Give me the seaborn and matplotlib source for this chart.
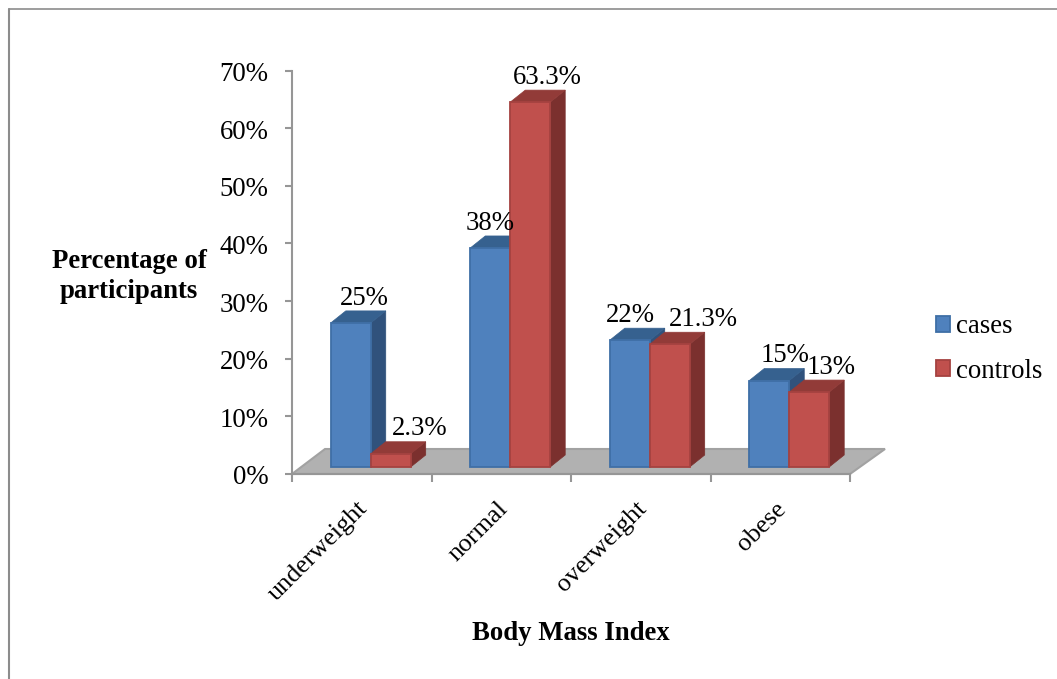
import pandas as pd
import seaborn as sns
from matplotlib import pyplot as plt
from matplotlib.lines import Line2D
from matplotlib.patches import Polygon
from matplotlib.transforms import ScaledTranslation

categories = ['underweight', 'normal', 'overweight', 'obese']
cases = [25, 38, 22, 15]
controls = [2.3, 63.3, 21.3, 13]
cases_labels = ['25%', '38%', '22%', '15%']
controls_labels = ['2.3%', '63.3%', '21.3%', '13%']
y_ticks = [0, 10, 20, 30, 40, 50, 60, 70]

W, H = 1057, 679
LEFT, RIGHT, TOP, BOTTOM = 292, 850, 70.5, 474    # axes box, pixels from top left
AXIS_GREY = '#969696'
FS = 19.3

sns.set_theme(style='white')
plt.rcParams['font.family'] = ['Liberation Serif', 'DejaVu Serif']
plt.rcParams['text.color'] = 'black'

df = pd.DataFrame({'BMI': categories * 2,
                   'value': cases + controls,
                   'group': ['cases'] * 4 + ['controls'] * 4})

fig = plt.figure(figsize=(W / 100, H / 100), dpi=100, facecolor='white')
ax = fig.add_axes([LEFT / W, 1 - BOTTOM / H, (RIGHT - LEFT) / W, (BOTTOM - TOP) / H])

sns.barplot(data=df, x='BMI', y='value', hue='group', order=categories,
            palette={'cases': '#4F81BD', 'controls': '#C0504D'},
            width=0.573, saturation=1, ax=ax)
ax.set_xlim(-0.5, 3.5)
ax.set_ylim(0, 70)

# pixels to data units, the fake 3D is all done by offsets
px_x = 4 / (RIGHT - LEFT)
px_y = 70 / (BOTTOM - TOP)

# floor
floor = Polygon([(-0.5, 0), (-0.5 + 33 * px_x, 25 * px_y),
                 (3.5 + 35 * px_x, 25 * px_y), (3.5, 0)],
                closed=True, facecolor='#B1B1B1', edgecolor='#A2A2A2',
                linewidth=1.5, clip_on=False, zorder=1)
ax.add_patch(floor)

shades = {0: ('#30527C', '#36618F', '#3F6FA6'), 1: ('#7B302E', '#923B38', '#A54240')}
depth_x, depth_y = 15 * px_x, 12 * px_y
lift_y = 7 * px_y
shift_x = 9 * px_x

for s, container in enumerate(ax.containers):
    side, top, edge = shades[s]
    for i, bar in enumerate(container):
        bar.set_x(bar.get_x() + shift_x)
        bar.set_y(lift_y)
        bar.set_edgecolor(edge)
        bar.set_linewidth(1.3)
        z = 3 + i + s * 0.3
        bar.set_zorder(z + 0.02)
        bar.set_clip_on(False)
        x0, x1 = bar.get_x(), bar.get_x() + bar.get_width()
        y0, y1 = lift_y, lift_y + bar.get_height()
        ax.add_patch(Polygon([(x1, y0), (x1 + depth_x, y0 + depth_y),
                              (x1 + depth_x, y1 + depth_y), (x1, y1)],
                             facecolor=side, edgecolor=side, linewidth=0.5,
                             clip_on=False, zorder=z))
        ax.add_patch(Polygon([(x0, y1), (x0 + depth_x, y1 + depth_y),
                              (x1 + depth_x, y1 + depth_y), (x1, y1)],
                             facecolor=top, edgecolor=top, linewidth=0.5,
                             clip_on=False, zorder=z + 0.01))

# data labels, nudged by hand like in the original
nudge = {0: [(14, 24), (0, 24), (1, 25), (16, 25)],
         1: [(29, 25), (17, 25), (34, 25), (22, 25)]}
texts = {0: cases_labels, 1: controls_labels}
for s, container in enumerate(ax.containers):
    for i, bar in enumerate(container):
        ax.annotate(texts[s][i], (bar.get_x() + bar.get_width() / 2, lift_y + bar.get_height()),
                    xytext=nudge[s][i], textcoords='offset pixels', ha='center', va='center',
                    fontsize=FS, color='black', zorder=20, annotation_clip=False)

# axes
sns.despine(ax=ax)
for name in ['left', 'bottom']:
    ax.spines[name].set_color(AXIS_GREY)
    ax.spines[name].set_linewidth(1.5)
    ax.spines[name].set_zorder(2)

ax.set_yticks(y_ticks)
ax.set_yticklabels([f'{v}%' for v in y_ticks], fontsize=FS, color='black')
ax.tick_params(axis='y', left=True, length=5, width=1.5, color=AXIS_GREY, pad=12)
for lab in ax.get_yticklabels():
    lab.set_transform(lab.get_transform() + ScaledTranslation(0, -1 / 100, fig.dpi_scale_trans))

ax.set_xticks([-0.5, 0.5, 1.5, 2.5, 3.5])
ax.set_xticklabels([])
ax.tick_params(axis='x', which='major', bottom=True, length=6, width=1.5, color=AXIS_GREY)
ax.set_xticks(range(4), minor=True)
ax.set_xticklabels(categories, minor=True, fontsize=18.8, color='black', rotation=45,
                   ha='right', va='top', rotation_mode='anchor')
ax.tick_params(axis='x', which='minor', bottom=False, length=0, pad=17)
for lab in ax.get_xticklabels(minor=True):
    lab.set_transform(lab.get_transform() + ScaledTranslation(-5 / 100, 0, fig.dpi_scale_trans))

ax.set_xlabel('Body Mass Index', fontsize=FS, fontweight='bold', color='black')
ax.xaxis.set_label_coords(0.5, (BOTTOM - 633) / (BOTTOM - TOP))
ax.xaxis.label.set_verticalalignment('center')
ax.set_ylabel('Percentage of\nparticipants', fontsize=FS, fontweight='bold', color='black',
              rotation=0, ha='center', va='center', linespacing=1.3)
ax.yaxis.set_label_coords((129 - LEFT) / (RIGHT - LEFT), (BOTTOM - 276.5) / (BOTTOM - TOP))

# legend
handles, labels = ax.get_legend_handles_labels()
leg = ax.legend(handles, labels, loc='center left',
                bbox_to_anchor=(936 / W, 1 - 349 / H), bbox_transform=fig.transFigure,
                frameon=False, fontsize=FS, handlelength=0.52, handleheight=0.52,
                handletextpad=0.24, labelspacing=0.72, borderpad=0, borderaxespad=0)
for h, s in zip(leg.legend_handles, [0, 1]):
    h.set_edgecolor(shades[s][2])
    h.set_linewidth(1.3)

# outer frame of the pasted chart
fig.add_artist(Line2D([8.5 / W, 8.5 / W], [0, 1 - 9 / H], color='#8C8C8C', linewidth=1.5))
fig.add_artist(Line2D([8.5 / W, 1], [1 - 9 / H, 1 - 9 / H], color='#8C8C8C', linewidth=1.2))

fig.savefig('out.png', dpi=100)
